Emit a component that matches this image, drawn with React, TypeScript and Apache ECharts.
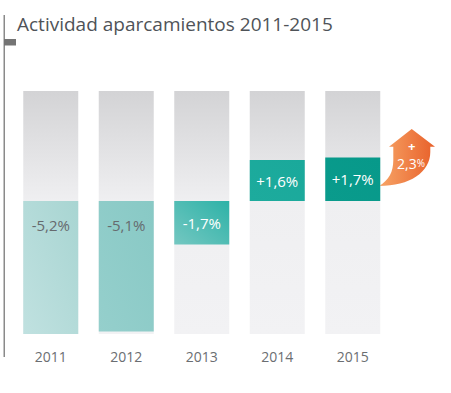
import React, { useEffect, useRef } from "react";
import * as echarts from "echarts";

const years = ["2011", "2012", "2013", "2014", "2015"];
const values = [-5.2, -5.1, -1.7, 1.6, 1.7];
const titleText = "Actividad aparcamientos 2011-2015";
const extraLabelSign = "+";
const extraLabelValue = "2,3";

const barGradients: [string, string][] = [
  ["#c0e1e0", "#a8d5d2"],
  ["#95cfcc", "#88c9c5"],
  ["#74c7c1", "#2db2a7"],
  ["#1dab9d", "#1aa99b"],
  ["#0a9b8c", "#07998a"],
];
const labelColors = ["#666a6e", "#666a6e", "#ffffff", "#ffffff", "#ffffff"];

const fmt = (v: number) => (v > 0 ? "+" : "") + v.toFixed(1).replace(".", ",") + "%";

const ARROW_D =
  "M411.7 129 L435 146.7 L430.3 146.7 L430.3 152 C430.3 172 410 186 379 186 C389 180 393.3 172 393.3 160 L393.3 146.7 L389 146.7 Z";

let registered = false;

export default function App() {
  const ref = useRef<HTMLDivElement>(null);
  useEffect(() => {
    if (!ref.current) return;
    if (!registered) {
      echarts.graphic.registerShape("arrowUp", echarts.graphic.extendPath(ARROW_D, {}));
      registered = true;
    }
    const chart = echarts.init(ref.current, null, { renderer: "svg" });
    const font = "'Open Sans', 'Noto Sans', sans-serif";
    const data = values.map((v, i) => ({
      value: v,
      itemStyle: {
        color: new echarts.graphic.LinearGradient(0, 1, 1, 0, [
          { offset: 0, color: barGradients[i][0] },
          { offset: 1, color: barGradients[i][1] },
        ]),
      },
      label: {
        show: true,
        position: v < -3 ? "insideTop" : "inside",
        distance: 17,
        color: labelColors[i],
        fontSize: 15,
        fontFamily: font,
        formatter: () => fmt(v),
      },
    }));
    chart.setOption({
      animation: false,
      grid: { left: 13, right: 60.5, top: 91, bottom: 59 },
      xAxis: {
        type: "category",
        data: years,
        axisLine: { show: false },
        axisTick: { show: false },
        axisLabel: { color: "#6b6e72", fontSize: 14, fontFamily: font, margin: 15 },
      },
      yAxis: { type: "value", min: -5.2, max: 4.3, show: false },
      series: [
        {
          type: "bar",
          data,
          barWidth: 55,
          showBackground: true,
          backgroundStyle: {
            color: new echarts.graphic.LinearGradient(0, 0, 0, 1, [
              { offset: 0, color: "#d3d3d5" },
              { offset: 0.45, color: "#efeff1" },
              { offset: 1, color: "#f2f2f4" },
            ]),
          },
        },
      ],
      graphic: [
        {
          type: "rect",
          shape: { x: 3.5, y: 15, width: 1.5, height: 342 },
          style: { fill: "#8a8a8a" },
        },
        {
          type: "rect",
          shape: { x: 4, y: 39, width: 12, height: 6.5 },
          style: { fill: "#747474" },
        },
        {
          type: "text",
          x: 17,
          y: 14,
          style: {
            text: titleText,
            fill: "#4f5358",
            fontSize: 19,
            fontFamily: font,
          },
        },
        {
          type: "arrowUp",
          x: 0,
          y: 0,
          style: {
            fill: new echarts.graphic.LinearGradient(0, 0, 1, 0, [
              { offset: 0, color: "#f7a567" },
              { offset: 1, color: "#e8602a" },
            ]),
          },
        },
        {
          type: "text",
          x: 411.7,
          y: 145.5,
          style: {
            text: extraLabelSign,
            fill: "#ffffff",
            fontSize: 13,
            lineHeight: 11,
            fontFamily: font,
            fontWeight: "bold",
            align: "center",
            verticalAlign: "middle",
          },
        },
        {
          type: "text",
          x: 411,
          y: 163,
          style: {
            text: "{a|" + extraLabelValue + "}{b|%}",
            align: "center",
            verticalAlign: "middle",
            rich: {
              a: { fill: "#ffffff", color: "#ffffff", fontSize: 14, lineHeight: 14, fontFamily: font },
              b: { fill: "#ffffff", color: "#ffffff", fontSize: 10, lineHeight: 14, fontFamily: font },
            },
          },
        },
      ],
    });
    return () => chart.dispose();
  }, []);
  return (
    <div
      ref={ref}
      style={{ position: "fixed", left: 0, top: 0, width: 451, height: 393, background: "#fff" }}
    />
  );
}
